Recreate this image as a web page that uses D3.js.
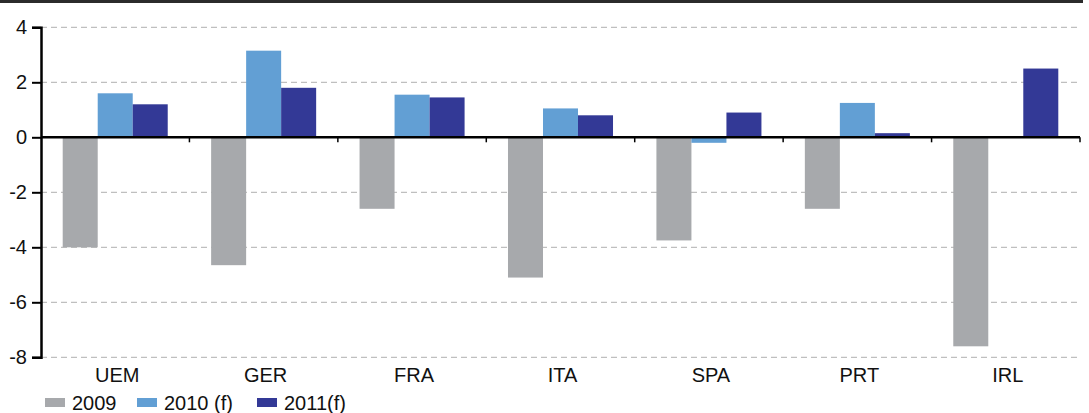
<!DOCTYPE html>
<html>
<head>
<meta charset="utf-8">
<script src="https://cdn.jsdelivr.net/npm/d3@7/dist/d3.min.js"></script>
<style>
  body { margin: 0; background: #fff; }
  svg text { font-family: "Liberation Sans", Arial, sans-serif; fill: #111; }
</style>
</head>
<body>
<div id="chart"></div>
<script>
var categories = ['UEM', 'GER', 'FRA', 'ITA', 'SPA', 'PRT', 'IRL'];
var seriesNames = ['2009', '2010 (f)', '2011(f)'];
var values2009 = [-4.0, -4.65, -2.6, -5.1, -3.75, -2.6, -7.6];
var values2010 = [1.6, 3.15, 1.55, 1.05, -0.2, 1.25, null];
var values2011 = [1.2, 1.8, 1.45, 0.8, 0.9, 0.15, 2.5];
var yTicks = [4, 2, 0, -2, -4, -6, -8];
var colors = ['#a7a9ac', '#629fd4', '#333996'];

var width = 1089, height = 413;
var plotLeft = 41, plotRight = 1080, plotTop = 27.3, plotBottom = 357.3;
var fontSize = 20;

var svg = d3.select('#chart').append('svg')
  .attr('width', width)
  .attr('height', height);

// top rule
svg.append('rect')
  .attr('x', 0).attr('y', 0)
  .attr('width', 1083).attr('height', 3)
  .attr('fill', '#2b2b2b');

var x = d3.scaleBand().domain(categories).range([plotLeft, plotRight]).paddingInner(0).paddingOuter(0);
var inner = d3.scaleBand().domain(seriesNames).range([0, x.bandwidth()]).paddingInner(0).paddingOuter(0.62);
var y = d3.scaleLinear().domain([4, -8]).range([plotTop, plotBottom]);

// grid
svg.append('g').selectAll('line.grid')
  .data(yTicks.filter(function(d) { return d !== 0; }))
  .enter().append('line')
  .attr('class', 'grid')
  .attr('x1', plotLeft).attr('x2', plotRight)
  .attr('y1', function(d) { return y(d); })
  .attr('y2', function(d) { return y(d); })
  .attr('stroke', '#b0b0b0')
  .attr('stroke-width', 1)
  .attr('stroke-dasharray', '6,4');

// bars
var rows = [];
categories.forEach(function(c, i) {
  [values2009, values2010, values2011].forEach(function(vals, s) {
    if (vals[i] !== null) rows.push({ cat: c, series: seriesNames[s], value: vals[i], color: colors[s] });
  });
});

svg.append('g').selectAll('rect.bar')
  .data(rows)
  .enter().append('rect')
  .attr('class', 'bar')
  .attr('x', function(d) { return x(d.cat) + inner(d.series); })
  .attr('width', inner.bandwidth())
  .attr('y', function(d) { return y(Math.max(0, d.value)); })
  .attr('height', function(d) { return Math.abs(y(d.value) - y(0)); })
  .attr('fill', function(d) { return d.color; });

// y axis
var yAxis = d3.axisLeft(y).tickValues(yTicks).tickSize(9).tickPadding(5)
  .tickFormat(function(d) { return d < 0 ? '-' + Math.abs(d) : d; });
var gy = svg.append('g').attr('transform', 'translate(' + plotLeft + ',0)').call(yAxis);
gy.select('.domain').attr('stroke', '#000').attr('stroke-width', 2.5);
gy.selectAll('.tick line').attr('stroke', '#000').attr('stroke-width', 2);
gy.selectAll('.tick text').attr('font-size', fontSize).attr('fill', '#111');

// x axis at zero
var boundaries = categories.map(function(c) { return x(c); }).concat([plotRight]);
svg.append('line')
  .attr('x1', plotLeft).attr('x2', plotRight)
  .attr('y1', y(0)).attr('y2', y(0))
  .attr('stroke', '#000').attr('stroke-width', 2.5);
svg.append('g').selectAll('line.xtick')
  .data(boundaries.slice(1))
  .enter().append('line')
  .attr('class', 'xtick')
  .attr('x1', function(d) { return d; }).attr('x2', function(d) { return d; })
  .attr('y1', y(0)).attr('y2', y(0) + 5)
  .attr('stroke', '#000').attr('stroke-width', 1.5);

// category labels
svg.append('g').selectAll('text.cat')
  .data(categories)
  .enter().append('text')
  .attr('class', 'cat')
  .attr('x', function(d) { return x(d) + x.bandwidth() / 2 + 2; })
  .attr('y', 382)
  .attr('text-anchor', 'middle')
  .attr('font-size', fontSize)
  .text(function(d) { return d; });

// legend
var legendX = [45, 137, 257];
var legend = svg.append('g').selectAll('g.leg')
  .data(seriesNames)
  .enter().append('g')
  .attr('class', 'leg')
  .attr('transform', function(d, i) { return 'translate(' + legendX[i] + ',0)'; });
legend.append('rect')
  .attr('x', 0).attr('y', 398)
  .attr('width', 20).attr('height', 9)
  .attr('fill', function(d, i) { return colors[i]; });
legend.append('text')
  .attr('x', 27).attr('y', 410)
  .attr('font-size', fontSize)
  .text(function(d) { return d; });
</script>
</body>
</html>
